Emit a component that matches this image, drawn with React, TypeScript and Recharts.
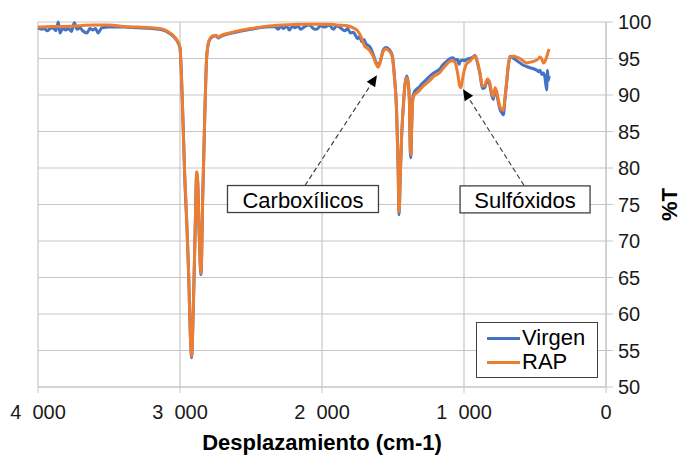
import React from "react";
import {
  LineChart,
  Line,
  XAxis,
  YAxis,
  CartesianGrid,
  Legend,
  ReferenceLine,
  ReferenceDot,
} from "recharts";

// RAP spectrum (wavenumber cm-1, %T)
const rapWn = [
  4000, 3900, 3800, 3700, 3600, 3500, 3400, 3300, 3200, 3120,
  3070, 3040, 3015, 3000, 2985, 2975, 2965, 2958, 2940, 2925,
  2918, 2910, 2895, 2882, 2875, 2865, 2852, 2840, 2825, 2812,
  2795, 2770, 2745, 2730, 2715, 2650, 2560, 2500, 2400, 2275,
  2150, 2037, 1950, 1897, 1820, 1780, 1750, 1730, 1710, 1697,
  1680, 1662, 1640, 1620, 1605, 1590, 1570, 1550, 1525, 1505,
  1490, 1475, 1465, 1457, 1450, 1440, 1427, 1415, 1403, 1393,
  1385, 1378, 1374, 1368, 1361, 1350, 1333, 1315, 1298, 1270,
  1240, 1216, 1169, 1150, 1122, 1099, 1077, 1060, 1045, 1030,
  1022, 1010, 995, 981, 960, 937, 922, 905, 887, 870,
  855, 835, 820, 805, 793, 782, 770, 758, 746, 735,
  723, 712, 700, 688, 676, 650, 620, 606, 585, 559,
  530, 510, 488, 475, 465, 452, 441, 430, 418, 406,
  400,
];
const rapT = [
  99.3, 99.4, 99.4, 99.5, 99.6, 99.6, 99.4, 99.3, 99.2, 99.0,
  98.5, 98.0, 97.3, 96.5, 90.0, 84.0, 78.0, 75.5, 66.0, 56.0,
  54.2, 58.0, 70.0, 79.5, 78.0, 71.0, 65.6, 76.0, 87.5, 95.3,
  97.5, 98.1, 98.2, 97.9, 98.1, 98.5, 98.9, 99.1, 99.4, 99.6,
  99.7, 99.7, 99.7, 99.6, 99.5, 99.2, 98.8, 98.2, 97.2, 96.6,
  96.4, 96.0, 95.3, 94.3, 93.8, 94.5, 95.9, 96.3, 96.0, 95.2,
  92.5, 88.0, 81.0, 74.0, 78.0, 84.0, 88.5, 91.5, 92.4, 91.5,
  89.5, 82.5, 81.8, 86.0, 89.2, 90.0, 90.3, 90.6, 91.0, 91.5,
  92.0, 92.5, 93.1, 93.6, 94.2, 94.6, 94.7, 94.3, 93.0, 91.2,
  91.0, 92.2, 93.6, 94.3, 94.6, 95.1, 95.3, 94.5, 93.0, 91.2,
  91.3, 92.2, 91.8, 90.3, 89.8, 91.0, 90.5, 89.3, 88.4, 88.0,
  87.9, 89.5, 91.8, 94.0, 95.2, 95.3, 95.1, 95.0, 94.7, 94.4,
  94.5, 94.6, 94.8, 95.0, 95.2, 94.9, 94.4, 94.6, 95.2, 96.0,
  96.3,
];

// Virgen spectrum
const virgenWn = [
  4000, 3975, 3955, 3935, 3915, 3895, 3875, 3857, 3845, 3825,
  3805, 3785, 3765, 3744, 3725, 3705, 3685, 3655, 3635, 3615,
  3595, 3577, 3550, 3500, 3450, 3400, 3300, 3200, 3120, 3070,
  3040, 3015, 3000, 2985, 2975, 2965, 2960, 2958, 2940, 2925,
  2918, 2910, 2895, 2882, 2875, 2865, 2852, 2840, 2825, 2812,
  2795, 2770, 2745, 2730, 2715, 2650, 2560, 2500, 2400, 2330,
  2310, 2290, 2270, 2250, 2230, 2210, 2190, 2170, 2150, 2120,
  2090, 2060, 2037, 2010, 1980, 1950, 1920, 1897, 1870, 1840,
  1820, 1800, 1780, 1765, 1750, 1735, 1720, 1705, 1690, 1675,
  1662, 1640, 1620, 1605, 1590, 1570, 1550, 1525, 1505, 1490,
  1475, 1465, 1457, 1450, 1440, 1427, 1415, 1403, 1393, 1385,
  1378, 1374, 1368, 1361, 1350, 1333, 1315, 1298, 1270, 1240,
  1216, 1169, 1150, 1122, 1099, 1077, 1060, 1045, 1035, 1028,
  1010, 995, 981, 960, 937, 922, 905, 887, 870, 855,
  835, 820, 805, 793, 782, 770, 758, 746, 735, 723,
  712, 700, 688, 676, 650, 620, 606, 585, 559, 530,
  510, 488, 475, 465, 452, 441, 430, 418, 412, 406,
  400,
];
const virgenT = [
  99.2, 99.0, 99.1, 98.8, 99.1, 99.2, 98.8, 100.0, 98.5, 99.1,
  98.9, 99.1, 98.7, 99.9, 99.0, 99.2, 98.8, 98.5, 99.1, 98.9,
  99.1, 98.5, 99.2, 99.3, 99.3, 99.3, 99.2, 99.1, 98.9, 98.4,
  97.9, 97.2, 96.4, 90.0, 84.0, 78.0, 75.5, 74.8, 66.0, 56.0,
  54.0, 58.0, 70.0, 79.3, 78.0, 71.0, 65.4, 76.0, 87.5, 95.2,
  97.4, 98.0, 98.1, 97.8, 98.0, 98.4, 98.8, 99.0, 99.3, 99.4,
  99.0, 99.4, 99.1, 99.5, 98.9, 99.4, 99.2, 99.5, 99.0, 99.4,
  99.6, 99.1, 99.0, 99.5, 99.3, 99.6, 99.0, 99.5, 99.2, 98.8,
  99.1, 98.5, 98.6, 98.2, 97.7, 98.0, 97.3, 97.6, 97.0, 96.8,
  96.6, 95.6, 94.5, 94.0, 94.6, 96.1, 96.5, 96.2, 95.4, 92.6,
  88.0, 81.0, 73.6, 78.0, 84.0, 88.6, 91.6, 92.6, 91.7, 89.6,
  82.0, 81.4, 86.0, 89.5, 90.4, 90.8, 91.1, 91.5, 92.0, 92.6,
  93.0, 93.6, 94.1, 94.6, 95.0, 95.1, 94.8, 94.9, 94.2, 94.6,
  94.8, 94.7, 94.9, 95.0, 95.2, 95.4, 94.4, 92.8, 90.9, 91.0,
  92.0, 91.5, 90.0, 89.4, 90.7, 90.2, 89.0, 88.0, 87.6, 87.3,
  89.3, 91.6, 94.0, 95.3, 95.0, 94.6, 94.4, 94.1, 93.9, 93.7,
  93.6, 93.4, 93.2, 93.4, 92.8, 93.0, 92.4, 90.7, 93.4, 92.0,
  92.6,
];

const xTicks = [0, 1000, 2000, 3000, 4000];
const yTicks = [50, 55, 60, 65, 70, 75, 80, 85, 90, 95, 100];

const seriesNames = ["Virgen", "RAP"];
const seriesColors = ["#4472C4", "#ED7D31"];

// annotations: label, box centre (wn, %T), arrow start and tip
const notes = [
  { label: "Carboxílicos", box: [2134, 75.75], from: [2120, 77.6], to: [1613, 92.7], w: 151 },
  { label: "Sulfóxidos", box: [570, 75.7], from: [577, 77.6], to: [1007, 90.8], w: 130 },
];

const virgenData = virgenWn.map((x, i) => ({ x, t: virgenT[i] }));
const rapData = rapWn.map((x, i) => ({ x, t: rapT[i] }));

const FONT = '"Liberation Sans", Arial, sans-serif';
const GRID = "#c6c6c6";
const TEXT = "#1a1a1a";

// "4 000" style labels (two spaces kept with white-space: pre)
const fmtX = (v: number) =>
  v === 0 ? "0" : `${Math.floor(v / 1000)}  ${String(v % 1000).padStart(3, "0")}`;

const XTick = (props: any) => {
  const { x, y, payload } = props;
  return (
    <text x={x} y={y + 8} textAnchor="middle" dominantBaseline="central" fontSize={20} fontFamily={FONT} fill={TEXT} style={{ whiteSpace: "pre" }}>
      {fmtX(payload.value)}
    </text>
  );
};

const ArrowShape = (props: any) => {
  const { x1, y1, x2, y2 } = props;
  const dx = x2 - x1;
  const dy = y2 - y1;
  const len = Math.sqrt(dx * dx + dy * dy);
  const ux = dx / len;
  const uy = dy / len;
  const hl = 11;
  const hw = 5;
  const bx = x2 - ux * hl;
  const by = y2 - uy * hl;
  const pts = `${x2},${y2} ${bx - uy * hw},${by + ux * hw} ${bx + uy * hw},${by - ux * hw}`;
  return (
    <g>
      <line x1={x1} y1={y1} x2={bx} y2={by} stroke="#404040" strokeWidth={1.2} strokeDasharray="5 3" />
      <polygon points={pts} fill="#000" />
    </g>
  );
};

const boxShape = (label: string, w: number) => (props: any) => {
  const { cx, cy } = props;
  return (
    <g>
      <rect x={cx - w / 2} y={cy - 13.5} width={w} height={27} fill="#fff" stroke="#404040" strokeWidth={1.3} />
      <text x={cx} y={cy + 1} textAnchor="middle" dominantBaseline="central" fontSize={22} fontFamily={FONT} fill="#000">
        {label}
      </text>
    </g>
  );
};

const LegendBox = () => (
  <div
    style={{
      width: 122,
      height: 56,
      border: "1.3px solid #404040",
      background: "#fff",
      fontFamily: FONT,
      fontSize: 22,
      lineHeight: "24px",
      color: "#000",
      boxSizing: "border-box",
      paddingTop: 3,
    }}
  >
    {seriesNames.map((n, i) => (
      <div key={n} style={{ display: "flex", alignItems: "center", height: 24 }}>
        <span style={{ display: "inline-block", width: 33, height: 3, background: seriesColors[i], marginLeft: 10, marginRight: 2 }} />
        <span>{n}</span>
      </div>
    ))}
  </div>
);

export default function App() {
  return (
    <div style={{ position: "absolute", left: 0, top: 0, width: 683, height: 456, background: "#fff" }}>
      <LineChart width={683} height={456} margin={{ top: 22, right: 27, left: 38, bottom: 24 }}>
        <CartesianGrid stroke={GRID} strokeWidth={1.2} />
        <XAxis
          type="number"
          dataKey="x"
          domain={[0, 4000]}
          reversed
          ticks={xTicks}
          height={45}
          tickSize={6}
          tickMargin={11}
          stroke={GRID}
          tick={<XTick />}
          allowDuplicatedCategory={false}
          label={{
            content: (p: any) => {
              const vb = p.viewBox;
              return (
                <text x={vb.x + vb.width / 2} y={vb.y + vb.height + 10} textAnchor="middle" dominantBaseline="central" fontSize={22} fontWeight="bold" fontFamily={FONT} fill="#000">
                  Desplazamiento (cm-1)
                </text>
              );
            },
          }}
        />
        <YAxis
          orientation="right"
          domain={[50, 100]}
          ticks={yTicks}
          width={50}
          tickSize={7}
          tickMargin={5}
          stroke={GRID}
          tick={{ fill: TEXT, fontSize: 20, fontFamily: FONT }}
          label={{
            content: (p: any) => {
              const vb = p.viewBox;
              const lx = vb.x + vb.width + 13;
              const ly = vb.y + vb.height / 2;
              return (
                <text x={lx} y={ly} transform={`rotate(-90 ${lx} ${ly})`} textAnchor="middle" dominantBaseline="central" fontSize={22} fontWeight="bold" fontFamily={FONT} fill="#000">
                  %T
                </text>
              );
            },
          }}
        />
        <Line data={virgenData} dataKey="t" name="Virgen" stroke={seriesColors[0]} strokeWidth={3} dot={false} type="monotone" isAnimationActive={false} />
        <Line data={rapData} dataKey="t" name="RAP" stroke={seriesColors[1]} strokeWidth={3} dot={false} type="monotone" isAnimationActive={false} />
        {notes.map((n) => (
          <ReferenceLine
            key={n.label + "-arrow"}
            segment={[{ x: n.from[0], y: n.from[1] }, { x: n.to[0], y: n.to[1] }]}
            shape={ArrowShape}
          />
        ))}
        {notes.map((n) => (
          <ReferenceDot key={n.label + "-box"} x={n.box[0]} y={n.box[1]} r={1} shape={boxShape(n.label, n.w)} />
        ))}
        <Legend
          layout="horizontal"
          verticalAlign="middle"
          align="center"
          content={() => <LegendBox />}
          wrapperStyle={{ left: 476, top: 322, width: 122, height: 56 }}
        />
      </LineChart>
    </div>
  );
}
